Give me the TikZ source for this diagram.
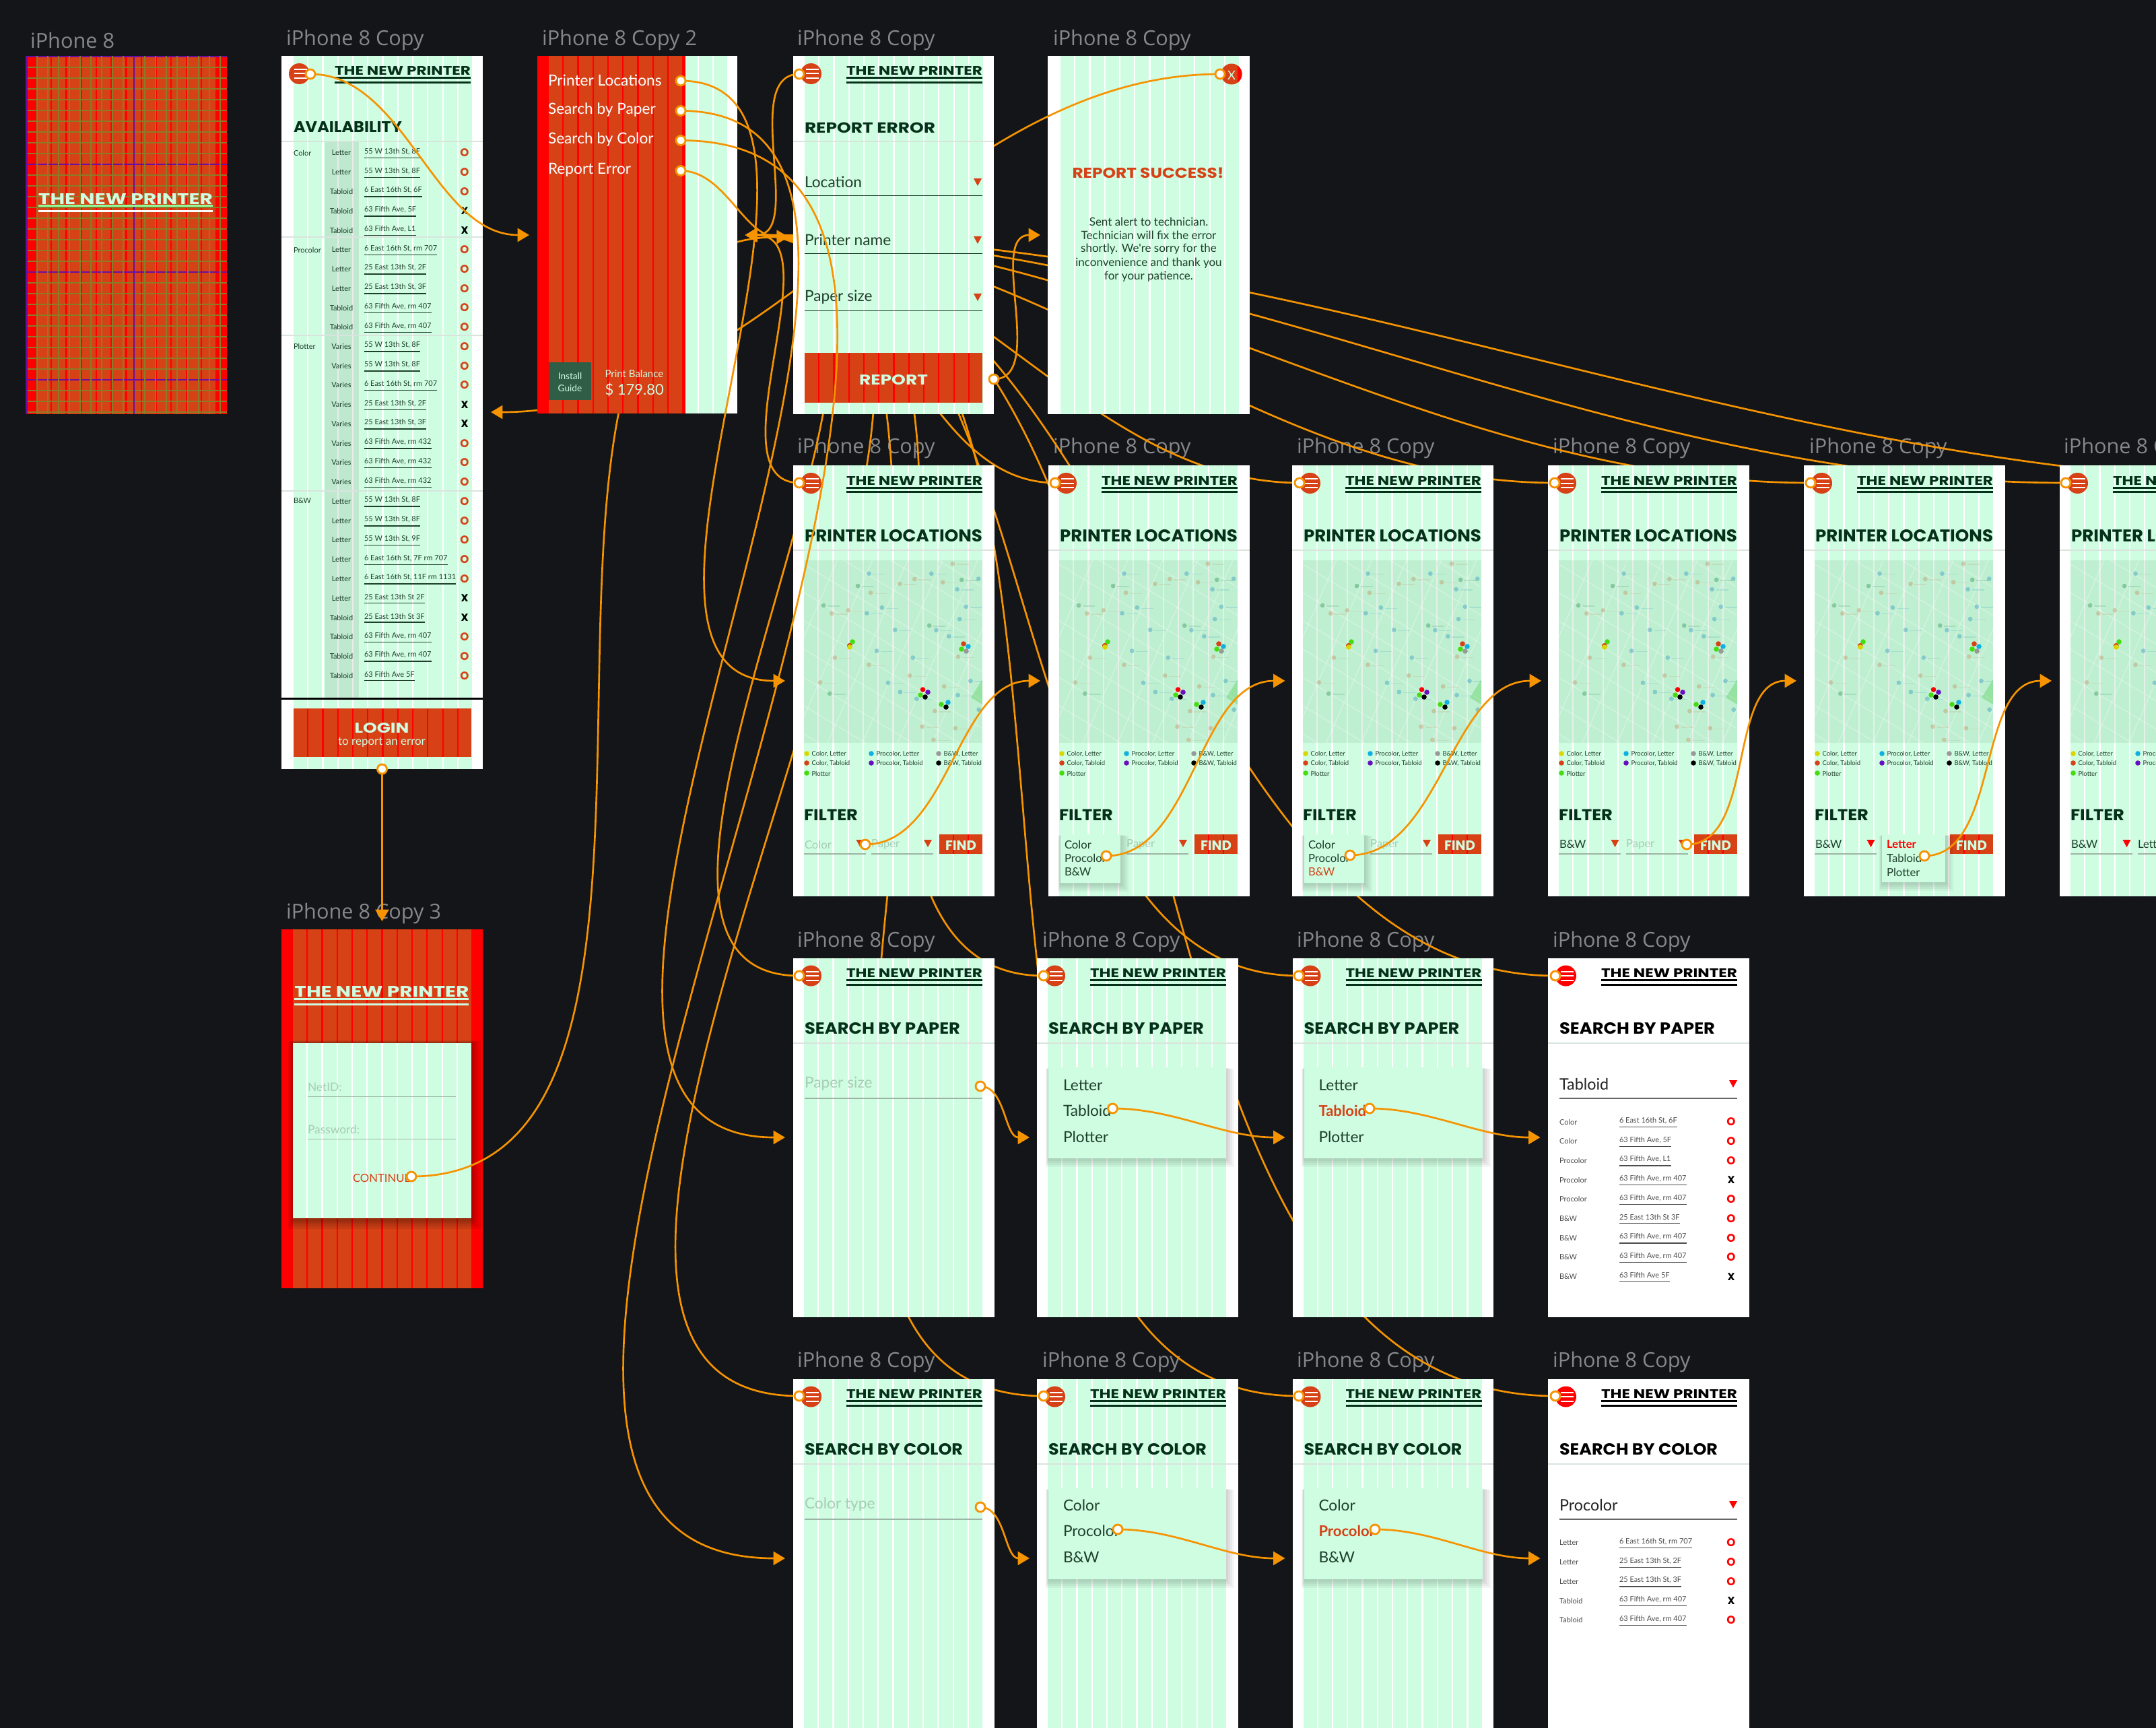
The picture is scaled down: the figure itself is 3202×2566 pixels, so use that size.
\documentclass[tikz,border=0pt]{standalone}
\usepackage{fontspec}
\usepackage{graphicx}
\usetikzlibrary{arrows.meta,calc}
\newfontfamily\bd{Lato}
\newfontfamily\hdf{Poppins}
\newfontfamily\lb{Open Sans}
\newcommand\hd{\hdf\bfseries}
\newcommand\fz[1]{\fontsize{#1}{#1}\selectfont}
\definecolor{mint}{HTML}{CFFDE1}
\definecolor{orng}{HTML}{D64116}
\definecolor{hot}{HTML}{FF0000}
\definecolor{bgd}{HTML}{131518}
\definecolor{conn}{HTML}{F59300}
\definecolor{ink}{HTML}{05301A}
\definecolor{soft}{HTML}{1E3F2C}
\definecolor{lab}{HTML}{85888B}
\definecolor{ghost}{HTML}{A6CDB6}
\definecolor{rule}{HTML}{9DB5A6}
\definecolor{sep}{HTML}{D9E4DD}
\definecolor{olive}{HTML}{8B7B28}
\definecolor{purp}{HTML}{6A0FA0}
\definecolor{instl}{HTML}{2F5D45}
\definecolor{pblue}{HTML}{3C9FC0}
\definecolor{ptan}{HTML}{C29A6A}
\definecolor{pgrn}{HTML}{3F9A60}
\definecolor{dyel}{HTML}{D8D800}
\definecolor{dgrn}{HTML}{44DD11}
\definecolor{dblu}{HTML}{10B0E0}
\definecolor{dpur}{HTML}{6A0FC0}
\definecolor{dgry}{HTML}{999999}
\definecolor{mapb}{HTML}{7FB894}
\newcounter{tn}
\tikzset{
  x=0.3pt,y=-0.3pt,
  txt/.style={inner sep=0pt,outer sep=0pt,anchor=west,yshift=-.15pt,font=\bd\fz{6.8},text=soft},
  tctr/.style={txt,anchor=center},
  tbl/.style={txt,font=\bd\fz{3.3}},
  sm/.style={txt,font=\bd\fz{5}},
  labl/.style={txt,yshift=-.6pt,font=\lb\fz{9.2},text=lab},
  lgd/.style={txt,font=\bd\fz{2.85},text=soft},
  flow/.style={draw=conn,line width=.8pt,-{Triangle[length=5.2pt,width=6pt,fill=conn]}},
  hotspot/.style={circle,draw=conn,fill=white,line width=.85pt,minimum size=4.2pt,inner sep=0pt},
  bar/.style={line width=.9pt},
  ruleln/.style={draw=rule,line width=.55pt},
}
\newcommand\T[4][]{\stepcounter{tn}\node[txt,#1] (t\arabic{tn}) at ({#2},{#3}) {#4};}
\newcommand\hdt[3]{\resizebox{\dimexpr#1pt*3/10\relax}{\dimexpr#2pt*3/10\relax}{\hd #3}}
\newcommand\uln[1]{\underline{#1}}
% connectors: departure and arrival tangents horizontal, handles 0.35 of the span
\newcommand\conR[2]{\draw[flow] let \p1=(#1),\p2=(#2),\n1={veclen(\x2-\x1,\y2-\y1)*0.35*1pt} in (\p1) .. controls (\x1+\n1,\y1) and (\x2-\n1,\y2) .. (\p2);}
\newcommand\conL[2]{\draw[flow] let \p1=(#1),\p2=(#2),\n1={veclen(\x2-\x1,\y2-\y1)*0.35*1pt} in (\p1) .. controls (\x1-\n1,\y1) and (\x2+\n1,\y2) .. (\p2);}
\newcommand\hs[1]{\node[hotspot] (#1-d) at (#1) {};}
% grid: left x, top, bottom, colour, last column index
\newcommand\gridcols[5]{\foreach \i in {0,...,#5}{\fill[#4] ({#1+\i*22.27},{#2}) rectangle ({#1+\i*22.27+20.07},{#3});}}
\newcommand\btn[5]{\fill[orng] ({#2},{#3}) rectangle ({#4},{#5});
  \begin{scope}\clip ({#2},{#3}) rectangle ({#4},{#5});
  \foreach \i in {0,...,10}{\fill[hot] ({#1+20.07+\i*22.27},{#3}) rectangle ({#1+22.27+\i*22.27},{#5});}
  \end{scope}}
\newcommand\hamb[3]{\fill[#3] ({#1},{#2}) circle (15.5);
  \foreach \d in {-6.5,0,6.5}{\draw[white,line width=.6pt] ({#1-8},{#2+\d}) -- ({#1+11},{#2+\d});}}
\newcommand\header[4]{\hamb{#1+26.5}{#2+26.5}{#4}
  \T[text=#3]{#1+79}{#2+22}{\hdt{202}{13}{THE NEW PRINTER}}
  \draw[#3,bar] ({#1+79},{#2+33}) -- ({#1+281},{#2+33});
  \draw[#3,bar] ({#1+79},{#2+39.5}) -- ({#1+281},{#2+39.5});}
\newcommand\dn[3]{\fill[#3] ({#1-6},{#2-5}) -- ({#1+6},{#2-5}) -- ({#1},{#2+6}) -- cycle;}
\newcommand\stO[3]{\T[tctr,font=\hd\fz{5},text=#3]{#1}{#2}{O}}
\newcommand\stX[3]{\T[tctr,font=\hd\fz{4.6},text=black]{#1}{#2}{X}}
\newcommand\popup[4]{\foreach \s in {12,9,6,3}{\fill[black,opacity=.045] ({#1-\s*.3},{#2+\s*.2}) rectangle ({#3+\s},{#4+\s+1});}
  \fill[mint] ({#1},{#2}) rectangle ({#3},{#4});}
% map: everything relative to the top left corner of the map
\newcommand\mapbox[2]{\begin{scope}[shift={(#1,#2)}]
  \fill[mapb,opacity=.2] (0,0) rectangle (265,271);
  \begin{scope}\clip (0,0) rectangle (265,271);
    \foreach \k in {-8,...,6}{\draw[white,opacity=.3,line width=.4pt] (-10,{\k*42}) -- (280,{\k*42+175});}
    \foreach \k in {0,...,8}{\draw[white,opacity=.3,line width=.4pt] ({\k*52},-5) -- ({\k*52-125},280);}
    \fill[green!55!gray,opacity=.3] (265,177) -- (248,204) -- (265,214) -- cycle;
    \foreach \a/\b/\c in {275/505/pblue,243/545/pgrn,365/538/ptan,280/567/ptan,143/608/pgrn,167/634/ptan,215/624/ptan,269/633/pblue,313/615/pblue,351/687/pblue,298/755/pblue,176/777/ptan,275/800/ptan,403/777/pblue,394/835/ptan,133/857/ptan,331/858/pblue,161/893/pgrn,366/888/pblue,414/910/pblue,467/950/ptan,430/1000/ptan,463/1043/ptan,527/1005/ptan,595/945/pblue,534/898/pblue,494/870/ptan,571/852/pblue,535/774/ptan,508/708/pblue,539/652/pblue,558/612/pblue,451/673/pgrn,471/688/pblue,457/505/pblue,408/523/ptan,490/533/ptan,545/525/pgrn,532/556/pblue,594/522/pblue,519/473/ptan}{
      \fill[\c,opacity=.45] ({(\a-86)/1.96},{(\b-462)/2.178}) circle (3.4);
      \draw[\c,opacity=.2,line width=.4pt] ({(\a-86)/1.96+6},{(\b-462)/2.178+1}) -- ++(18,0);}
  \end{scope}
  \foreach \a/\b/\c in {72/121/dgrn,67.8/126.7/orng,68/129/dyel,237/124/orng,244/128/dblu,234/132/dgrn,241/135/dgry,176.5/192/hot,184/196/dpur,173/200/dgrn,180/203/black,214/211/dblu,204/214/dgrn,211/218/black}{
    \fill[\c] (\a,\b) circle (3.8);}
\end{scope}}
\newcommand\locscreen[1]{\fill[white] ({#1},691) rectangle ({#1+298.5},1331);
  \gridcols{#1+16}{691}{1331}{mint}{11}
  \draw[sep,line width=.4pt] ({#1},817) -- ({#1+298.5},817);
  \header{#1}{691}{ink}{orng}
  \T[text=ink]{#1+17}{795}{\hdt{264}{18}{PRINTER LOCATIONS}}
  \mapbox{#1+16}{832}
  \foreach \a/\b/\c/\t in {20/1119/dyel/{Color, Letter},20/1133/orng/{Color, Tabloid},20/1148/dgrn/{Plotter},116/1119/dblu/{Procolor, Letter},116/1133/dpur/{Procolor, Tabloid},216/1119/dgry/{B\&W, Letter},216/1133/black/{B\&W, Tabloid}}{
    \fill[\c] ({#1+\a},\b) circle (3.8);
    \T[lgd]{#1+\a+7.5}{\b}{\t}}
  \T[text=ink]{#1+16}{1210}{\hdt{80}{16.5}{FILTER}}
  \btn{#1+16}{#1+217}{1239}{#1+281}{1268}
  \T[tctr,text=mint]{#1+249}{1254}{\hdt{46}{14}{FIND}}}
\newcommand\dropA[3]{% x, left text style and text
  \T[sm,#2]{#1+17}{1253}{#3}
  \draw[ruleln,line width=.6pt] ({#1+16},1268) -- ({#1+108},1268);}
\newcommand\dropB[3]{%
  \T[sm,#2]{#1+116}{1253}{#3}
  \draw[ruleln,line width=.6pt] ({#1+116},1268) -- ({#1+208},1268);}
\newcommand\searchmint[4]{% x,y,title width,title
  \fill[white] ({#1},{#2}) rectangle ({#1+298.5},{#2+533});
  \gridcols{#1+16}{#2}{#2+533}{mint}{11}
  \draw[sep,line width=.6pt] ({#1},{#2+126}) -- ({#1+298.5},{#2+126});
  \header{#1}{#2}{ink}{orng}
  \T[text=ink]{#1+17}{#2+104.5}{\hdt{#3}{17}{#4}}}
\newcommand\searchwhite[4]{%
  \fill[white] ({#1},{#2}) rectangle ({#1+298.5},{#2+533});
  \draw[sep,line width=.6pt] ({#1},{#2+126}) -- ({#1+298.5},{#2+126});
  \header{#1}{#2}{black}{hot}
  \T[text=black]{#1+17}{#2+104.5}{\hdt{#3}{17}{#4}}}
\begin{document}
\begin{tikzpicture}
\useasboundingbox (0,0) rectangle (3202,2566);
\clip (0,0) rectangle (3202,2566);
\fill[bgd] (0,0) rectangle (3202,2566);

% ---- frame labels
\T[labl]{45}{57}{iPhone 8}
\T[labl]{425}{57}{iPhone 8 Copy}
\T[labl]{805}{57}{iPhone 8 Copy 2}
\T[labl]{1184}{57}{iPhone 8 Copy}
\T[labl]{1564}{57}{iPhone 8 Copy}
\foreach \xx in {1184,1564,1926,2306,2687,3065}{\T[labl]{\xx}{663}{iPhone 8 Copy}}
\T[labl]{425}{1354}{iPhone 8 Copy 3}
\foreach \xx in {1184,1548,1926,2306}{\T[labl]{\xx}{1396}{iPhone 8 Copy}\T[labl]{\xx}{2020}{iPhone 8 Copy}}

% ---- connector ends
\coordinate (tipL) at (1107,349);
\coordinate (tipR) at (1171,352);
\coordinate (rep) at (1187,110);
\coordinate (la) at (1187,717);
\coordinate (lb) at (1567,717);
\coordinate (lc) at (1930,717);
\coordinate (ld) at (2309,717);
\coordinate (le) at (2689,717);
\coordinate (lf) at (3068,717);
\coordinate (lg) at (3448,717);
\coordinate (pa) at (1187,1449);
\coordinate (pb) at (1550,1449);
\coordinate (pc) at (1929,1449);
\coordinate (pd) at (2310,1449);
\coordinate (ca) at (1187,2073);
\coordinate (cb) at (1550,2073);
\coordinate (cc) at (1929,2073);
\coordinate (cd) at (2310,2073);
\coordinate (close) at (1812,110);
\coordinate (tipAvail) at (729,612);
\coordinate (cont) at (611,1747);

% ---- menu links, under every frame
\foreach \nm in {rep,la,lb,lc,ld,le,lf,lg,pa,pb,pc,pd,ca,cb,cc,cd}{\edef\tmpa{\noexpand\conL{\nm}{tipL}}\tmpa}

% ---- iPhone 8 Copy 3
\fill[hot] (418,1380) rectangle (717,1913);
\gridcols{435}{1380}{1913}{orng}{11}
\T[tctr,text=mint]{567}{1471}{\hdt{259}{16}{THE NEW PRINTER}}
\draw[mint,bar] (437,1483) -- (696,1483);
\draw[mint,bar] (437,1491) -- (696,1491);
\foreach \s in {14,10,6,3}{\fill[black,opacity=.08] ({435-\s*.5},{1549-\s*.3}) rectangle ({700+\s},{1809+\s+2});}
\fill[white] (435,1549) rectangle (700,1809);
\gridcols{435}{1549}{1809}{mint}{11}
\T[font=\bd\fz{5.2},text=ghost]{457}{1614}{NetID:}
\draw[ruleln,line width=.3pt] (457,1628) -- (677,1628);
\T[font=\bd\fz{5.2},text=ghost]{457}{1677}{Password:}
\draw[ruleln,line width=.3pt] (457,1691) -- (677,1691);
\T[font=\bd\fz{5},text=orng]{524}{1749}{CONTINUE}
\conR{cont}{tipR}

% ---- iPhone 8
\fill[hot] (38,83) rectangle (337,615);
\gridcols{55}{83}{615}{orng}{11}
\foreach \k in {0,1,2,3}{\fill[purp] (38,{84+\k*160-1.3}) rectangle (337,{84+\k*160+1.3});}
\foreach \k in {1,...,33}{\ifnum\numexpr\k-\k/10*10\relax=0 \else\fill[olive] (40,{84+\k*16-1.3}) rectangle (337,{84+\k*16+1.3});\fi}
\foreach \k in {1,...,18}{\ifnum\k=10 \else\fill[olive] ({39+\k*16-1.3},83) rectangle ({39+\k*16+1.3},615);\fi}
\fill[purp] (38,83) rectangle (40.5,615);
\fill[purp] (198.2,83) rectangle (199.8,615);
\T[tctr,text=mint]{186.5}{295}{\hdt{259}{16}{THE NEW PRINTER}}
\draw[mint!70!green,bar] (57,306) -- (316,306);
\draw[white,bar] (57,313.5) -- (316,313.5);

% ---- iPhone 8 Copy (availability)
\fill[white] (418,83) rectangle (717,1142);
\gridcols{436}{83}{1142}{mint}{11}
\fill[black,opacity=.08] (483,210) rectangle (533,1037);
\header{418}{83}{ink}{orng}
\T[text=ink]{436}{188}{\hdt{161}{16}{AVAILABILITY}}
\foreach \yy in {210,352,498,729}{\draw[sep,line width=.5pt] (418,\yy) -- (717,\yy);}
\T[tbl]{436}{226}{Color}
\T[tbl]{436}{370}{Procolor}
\T[tbl]{436}{513}{Plotter}
\T[tbl]{436}{743}{B\&W}
\foreach \pp/\a/\s [count=\i from 0] in {
 Letter/{55 W 13th St, 8F}/O,Letter/{55 W 13th St, 8F}/O,Tabloid/{6 East 16th St, 6F}/O,Tabloid/{63 Fifth Ave, 5F}/X,Tabloid/{63 Fifth Ave, L1}/X,
 Letter/{6 East 16th St, rm 707}/O,Letter/{25 East 13th St, 2F}/O,Letter/{25 East 13th St, 3F}/O,Tabloid/{63 Fifth Ave, rm 407}/O,Tabloid/{63 Fifth Ave, rm 407}/O,
 Varies/{55 W 13th St, 8F}/O,Varies/{55 W 13th St, 8F}/O,Varies/{6 East 16th St, rm 707}/O,Varies/{25 East 13th St, 2F}/X,Varies/{25 East 13th St, 3F}/X,Varies/{63 Fifth Ave, rm 432}/O,Varies/{63 Fifth Ave, rm 432}/O,Varies/{63 Fifth Ave, rm 432}/O,
 Letter/{55 W 13th St, 8F}/O,Letter/{55 W 13th St, 8F}/O,Letter/{55 W 13th St, 9F}/O,Letter/{6 East 16th St, 7F rm 707}/O,Letter/{6 East 16th St, 11F rm 1131}/O,Letter/{25 East 13th St 2F}/X,Tabloid/{25 East 13th St 3F}/X,Tabloid/{63 Fifth Ave, rm 407}/O,Tabloid/{63 Fifth Ave, rm 407}/O,Tabloid/{63 Fifth Ave 5F}/O}{
  \T[tbl,anchor=center]{507}{226+\i*28.75}{\pp}
  \T[tbl,yshift=-.45pt]{541}{226+\i*28.75}{\uln{\a}}
  \csname st\s\endcsname{690}{226+\i*28.75}{orng}}
\draw[black,line width=.9pt] (418,1037) -- (717,1037);
\btn{436}{436}{1052}{700}{1124}
\T[tctr,text=mint]{567}{1080}{\hdt{81}{15}{LOGIN}}
\T[tctr,font=\bd\fz{5.1},text=mint]{567}{1101}{to report an error}

% ---- iPhone 8 Copy (success)
\fill[white] (1556,83) rectangle (1856,615);
\gridcols{1575}{83}{615}{mint}{11}
\T[tctr,text=orng]{1705}{256}{\hdt{225}{15.5}{REPORT SUCCESS!}}
\foreach \t/\yy in {{Sent alert to technician.}/328,{Technician will fix the error}/348.6,{shortly. We're sorry for the}/369,{inconvenience and thank you}/390,{for your patience.}/410}{
  \T[tctr,font=\bd\fz{5.1}]{1706}{\yy}{\t}}
\fill[orng] (1829,110) circle (15.5);
\begin{scope}\clip (1838,90) rectangle (1850,130);\fill[hot] (1829,110) circle (15.5);\end{scope}
\T[tctr,font=\bd\fz{5.5},text=mint]{1829}{111}{X}
\conL{close}{tipAvail}

% ---- iPhone 8 Copy (report error)
\fill[white] (1178,83) rectangle (1476,615);
\gridcols{1195}{83}{615}{mint}{11}
\draw[sep,line width=.4pt] (1178,210) -- (1476,210);
\header{1178}{83}{ink}{orng}
\T[text=ink]{1195}{189}{\hdt{194}{15.5}{REPORT ERROR}}
\foreach \t/\yy in {Location/270,{Printer name}/356,{Paper size}/441}{
  \T{1195}{\yy}{\t}
  \dn{1452}{\yy}{orng}
  \draw[soft,line width=.3pt] (1195,{\yy+21}) -- (1459,{\yy+21});}
\btn{1195}{1195}{524}{1459}{598}
\T[tctr,text=mint]{1327}{563}{\hdt{102}{15}{REPORT}}

% ---- iPhone 8 Copy 2 (menu)
\fill[white] (798,83) rectangle (1095,614);
\gridcols{815}{83}{614}{mint}{11}
\fill[hot] (798,83) rectangle (1018,614);
\gridcols{815}{83}{614}{orng}{8}
\foreach \t/\yy in {{Printer Locations}/119,{Search by Paper}/163,{Search by Color}/207,{Report Error}/252}{
  \T[text=white]{814}{\yy}{\t}}
\fill[instl] (815,538) rectangle (878,594);
\T[tctr,font=\bd\fz{4.1},text=mint]{846.5}{558}{Install}
\T[tctr,font=\bd\fz{4.1},text=mint]{846.5}{575.5}{Guide}
\T[font=\bd\fz{4.5},text=mint]{898.5}{555}{Print Balance}
\T[font=\bd\fz{6.6},text=mint]{898.5}{578}{\$ 179.80}

% ---- row 2: printer locations
\locscreen{1178}
\dropA{1178}{text=ghost}{Color}
\dn{1277.5}{1252}{orng}
\dropB{1178}{text=ghost}{Paper}
\dn{1378}{1252}{orng}
\coordinate (fa) at (1285,1254);

\locscreen{1557}
\dropB{1557}{text=ghost}{Paper}
\dn{1757}{1252}{orng}
\popup{1574.5}{1239}{1664}{1311}
\T[sm]{1581}{1253}{Color}\T[sm]{1581}{1273}{Procolor}\T[sm]{1581}{1293.5}{B\&W}
\coordinate (fb) at (1643,1271);

\locscreen{1919}
\dropB{1919}{text=ghost}{Paper}
\dn{2119}{1252}{orng}
\popup{1936.5}{1239}{2026}{1311}
\T[sm]{1943}{1253}{Color}\T[sm]{1943}{1273}{Procolor}\T[sm,text=orng]{1943}{1293.5}{B\&W}
\coordinate (fc) at (2005,1270);

\locscreen{2299}
\dropA{2299}{}{B\&W}
\dn{2398.5}{1252}{orng}
\dropB{2299}{text=ghost}{Paper}
\dn{2499}{1252}{orng}
\coordinate (fd) at (2505,1254);

\locscreen{2679}
\dropA{2679}{}{B\&W}
\dn{2778.5}{1252}{hot}
\popup{2795}{1239}{2889}{1310}
\T[text=hot,font=\bd\bfseries\fz{5}]{2802}{1253}{Letter}\T[sm]{2802}{1273.5}{Tabloid}\T[sm]{2802}{1294}{Plotter}
\coordinate (fe) at (2858,1271);

\locscreen{3059}
\dropA{3059}{}{B\&W}
\dn{3158.5}{1252}{hot}
\T[sm]{3175}{1253}{Letter}
\draw[ruleln,line width=.6pt] (3175,1268) -- (3202,1268);

% ---- row 3: search by paper
\searchmint{1178}{1422.5}{231}{SEARCH BY PAPER}
\T[text=ghost]{1195}{1609}{Paper size}
\draw[ruleln,line width=.5pt] (1195,1631) -- (1459,1631);
\coordinate (sa) at (1456,1613);

\searchmint{1540}{1422.5}{231}{SEARCH BY PAPER}
\popup{1557}{1585}{1821}{1720}
\T{1579}{1611}{Letter}\T{1579}{1649}{Tabloid}\T{1579}{1688}{Plotter}
\coordinate (sb) at (1652.5,1646);

\searchmint{1919.5}{1422.5}{231}{SEARCH BY PAPER}
\popup{1937}{1585}{2202}{1720}
\T{1958.5}{1611}{Letter}\T[text=orng,font=\bd\bfseries\fz{6.6}]{1958.5}{1649}{Tabloid}\T{1958.5}{1688}{Plotter}
\coordinate (sc) at (2034,1646);

\searchwhite{2299}{1422.5}{231}{SEARCH BY PAPER}
\T[text=black!85,font=\bd\fz{7}]{2316}{1609}{Tabloid}
\dn{2574}{1609}{hot}
\draw[black!60,line width=.5pt] (2316,1631) -- (2580,1631);
\foreach \pp/\a/\s [count=\i from 0] in {Color/{6 East 16th St, 6F}/O,Color/{63 Fifth Ave, 5F}/O,Procolor/{63 Fifth Ave, L1}/O,Procolor/{63 Fifth Ave, rm 407}/X,Procolor/{63 Fifth Ave, rm 407}/O,B\&W/{25 East 13th St 3F}/O,B\&W/{63 Fifth Ave, rm 407}/O,B\&W/{63 Fifth Ave, rm 407}/O,B\&W/{63 Fifth Ave 5F}/X}{
  \T[tbl,text=black!70]{2316}{1665+\i*28.7}{\pp}
  \T[tbl,text=black!70,yshift=-.45pt]{2405}{1665+\i*28.7}{\uln{\a}}
  \csname st\s\endcsname{2571}{1665+\i*28.7}{hot}}

% ---- row 4: search by color
\searchmint{1178}{2047.5}{235}{SEARCH BY COLOR}
\T[text=ghost]{1195}{2234}{Color type}
\draw[ruleln,line width=.5pt] (1195,2256) -- (1459,2256);
\coordinate (ta) at (1456,2238);

\searchmint{1540}{2047.5}{235}{SEARCH BY COLOR}
\popup{1557}{2210}{1821}{2345}
\T{1579}{2235}{Color}\T{1579}{2273}{Procolor}\T{1579}{2312}{B\&W}
\coordinate (tb) at (1660,2271);

\searchmint{1919.5}{2047.5}{235}{SEARCH BY COLOR}
\popup{1937}{2210}{2202}{2345}
\T{1958.5}{2235}{Color}\T[text=orng,font=\bd\bfseries\fz{6.6}]{1958.5}{2273}{Procolor}\T{1958.5}{2312}{B\&W}
\coordinate (tc) at (2042,2271);

\searchwhite{2299}{2047.5}{235}{SEARCH BY COLOR}
\T[text=black!85,font=\bd\fz{7}]{2316}{2234}{Procolor}
\dn{2574}{2234}{hot}
\draw[black!60,line width=.5pt] (2316,2256) -- (2580,2256);
\foreach \pp/\a/\s [count=\i from 0] in {Letter/{6 East 16th St, rm 707}/O,Letter/{25 East 13th St, 2F}/O,Letter/{25 East 13th St, 3F}/O,Tabloid/{63 Fifth Ave, rm 407}/X,Tabloid/{63 Fifth Ave, rm 407}/O}{
  \T[tbl,text=black!70]{2316}{2290+\i*28.7}{\pp}
  \T[tbl,text=black!70,yshift=-.45pt]{2405}{2290+\i*28.7}{\uln{\a}}
  \csname st\s\endcsname{2571}{2290+\i*28.7}{hot}}

% ---- top layer connectors
\coordinate (menu1) at (1011,120);
\coordinate (menu2) at (1011,164.5);
\coordinate (menu3) at (1011,208.5);
\coordinate (menu4) at (1011,253.5);
\coordinate (tipMap) at (1166,1011);
\coordinate (tipPaper) at (1166,1689);
\coordinate (tipColor) at (1166,2314);
\coordinate (burger) at (461,110);
\coordinate (tipMenu) at (786,349);
\coordinate (login) at (567.5,1142);
\coordinate (tipLogin) at (567.5,1368);
\coordinate (send) at (1476,563);
\coordinate (tipSent) at (1545,349);
\conR{menu1}{tipMap}
\conR{menu2}{tipPaper}
\conR{menu3}{tipColor}
\conR{menu4}{tipR}
\conR{burger}{tipMenu}
\draw[flow] (login) -- (tipLogin);
\conR{send}{tipSent}
\coordinate (t1) at (1545,1011);
\coordinate (t2) at (1908.5,1011);
\coordinate (t3) at (2289,1011);
\coordinate (t4) at (2668,1011);
\coordinate (t5) at (3047,1011);
\conR{fa}{t1}\conR{fb}{t2}\conR{fc}{t3}\conR{fd}{t4}\conR{fe}{t5}
\coordinate (u0) at (1529,1689);
\coordinate (u1) at (1908.5,1689);
\coordinate (u2) at (2287.5,1689);
\coordinate (v0) at (1529,2314);
\coordinate (v1) at (1908.5,2314);
\coordinate (v2) at (2287.5,2314);
\conR{sa}{u0}\conR{sb}{u1}\conR{sc}{u2}
\conR{ta}{v0}\conR{tb}{v1}\conR{tc}{v2}
\foreach \nm in {rep,la,lb,lc,ld,le,lf,pa,pb,pc,pd,ca,cb,cc,cd,close,cont,menu1,menu2,menu3,menu4,burger,login,send,fa,fb,fc,fd,fe,sa,sb,sc,ta,tb,tc}{\hs{\nm}}
\end{tikzpicture}
\end{document}
